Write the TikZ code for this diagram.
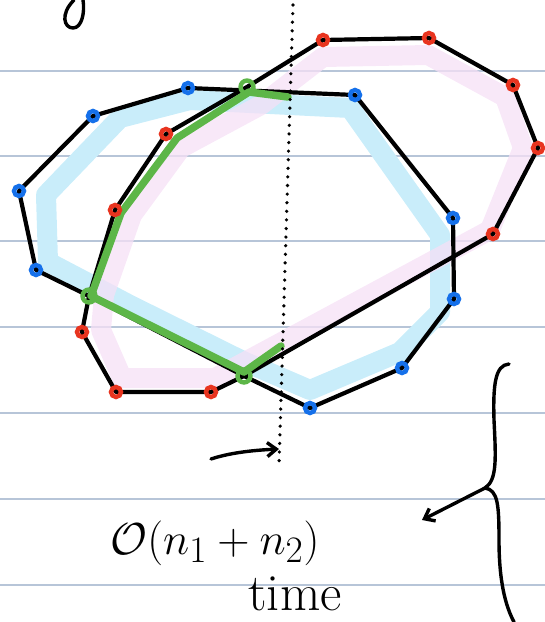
\documentclass[tikz,border=0pt]{standalone}
\usepackage{amsmath}
\usetikzlibrary{arrows.meta}
\definecolor{rule}{HTML}{B7C5D8}
\definecolor{bdotc}{HTML}{1570EA}
\definecolor{rdotc}{HTML}{E8341F}
\definecolor{grn}{HTML}{5DB648}
\definecolor{bband}{HTML}{C9EDFA}
\definecolor{pband}{HTML}{F6E0F6}
\tikzset{
  ruleline/.style={rule, line width=1.8pt},
  band/.style={line width=20pt, line join=round, line cap=round},
  poly/.style={black, line width=4.2pt, line join=round},
  greenpath/.style={grn, line width=7.5pt, line join=round, line cap=round},
  ring/.style={circle, inner sep=0pt, minimum size=10pt, line width=4.4pt},
  bdot/.style={ring, draw=bdotc},
  rdot/.style={ring, draw=rdotc},
  gdot/.style={ring, draw=grn, minimum size=13pt},
  pen/.style={black, line width=3.4pt, line cap=round, line join=round},
}
\begin{document}
\begin{tikzpicture}[x=1pt,y=-1pt]
\useasboundingbox (0,0) rectangle (545,622);
% ruled paper
\foreach \yy in {71,156,241,327,413,499,585}
  \draw[ruleline] (0,\yy) -- (545,\yy);

% vertices
\coordinate (B1) at (188,88);
\coordinate (B2) at (93,116);
\coordinate (B3) at (19,191);
\coordinate (B4) at (36,270);
\coordinate (B5) at (310,408);
\coordinate (B6) at (402,368);
\coordinate (B7) at (454,299);
\coordinate (B8) at (453,218);
\coordinate (B9) at (355,95);
\coordinate (G0) at (247,87);
\coordinate (G1) at (89,296);
\coordinate (G2) at (244,376);
\coordinate (R1) at (323,40);
\coordinate (R2) at (429,38);
\coordinate (R3) at (513,85);
\coordinate (R4) at (538,148);
\coordinate (R5) at (493,234);
\coordinate (R6) at (211,392);
\coordinate (R7) at (116,392);
\coordinate (R8) at (82,332);
\coordinate (R9) at (115,210);
\coordinate (R10) at (166,134);

% highlight bands
\draw[band, bband] (190,100) -- (120,118) -- (46,195) -- (48,262) -- (130,305)
  -- (245,362) -- (310,390) -- (400,352) -- (440,312) -- (440,235) -- (350,108) -- cycle;
\draw[band, pband, opacity=0.75] (323,57) -- (428,55) -- (505,97) -- (523,148) -- (490,230)
  -- (215,378) -- (122,378) -- (101,330) -- (104,295) -- (132,215) -- (181,148) -- (261,105) -- cycle;

% polygons
\draw[poly] (B1) -- (B2) -- (B3) -- (B4) -- (G1) -- (G2) -- (B5) -- (B6) -- (B7) -- (B8) -- (B9) -- cycle;
\draw[poly] (R1) -- (R2) -- (R3) -- (R4) -- (R5) -- (G2) -- (R6) -- (R7) -- (R8) -- (G1) -- (R9) -- (R10) -- (G0) -- cycle;

% green chain
\coordinate (Gs) at (288,97);
\coordinate (Ge) at (281,346);
\draw[greenpath] (Gs) -- (249,92) -- (177,138) -- (121,213) -- (91,296) -- (244,372) -- (Ge);

% dots
\foreach \p in {B1,B2,B3,B4,B5,B6,B7,B8,B9}
  \node[bdot] (d\p) at (\p) {};
\foreach \p in {R1,R2,R3,R4,R5,R6,R7,R8,R9,R10}
  \node[rdot] (d\p) at (\p) {};
\foreach \p in {G0,G1,G2}
  \node[gdot] (d\p) at (\p) {};

% dotted sweep line
\coordinate (Lt) at (293,5);
\coordinate (Lb) at (279,465);
\draw[black, line width=3.6pt, line cap=round, dash pattern=on 0pt off 8.6pt] (Lt) -- (Lb);

% sweep arrow
\coordinate (As) at (211,459);
\coordinate (Ae) at (279,449);
\draw[pen, -{Straight Barb[length=9pt,width=14pt]}] (As) .. controls (232,452) and (258,450) .. (Ae);

% partial glyph at top
\draw[pen] (74,0) .. controls (60,14) and (64,28) .. (73,28) .. controls (82,28) and (85,12) .. (83,0);

% brace
\coordinate (Bt) at (509,364);
\coordinate (Bm) at (485,488);
\coordinate (Bb) at (514,622);
\draw[pen] (Bt) .. controls (495,365) and (493,385) .. (494,420)
  .. controls (496,460) and (497,480) .. (Bm)
  .. controls (498,490) and (499,505) .. (499,540)
  .. controls (499,580) and (505,605) .. (Bb);
\coordinate (Bp) at (422,520);
\draw[pen, -{Straight Barb[length=9pt,width=14pt]}] (Bm) -- (Bp);

% text
\node[font=\Huge, scale=1.8, inner sep=0pt] (cost) at (215,543) {$\mathcal{O}(n_1+n_2)$};
\node[font=\Huge, scale=2.1, inner sep=0pt, anchor=base] (time) at (295,610) {time};
\end{tikzpicture}
\end{document}
